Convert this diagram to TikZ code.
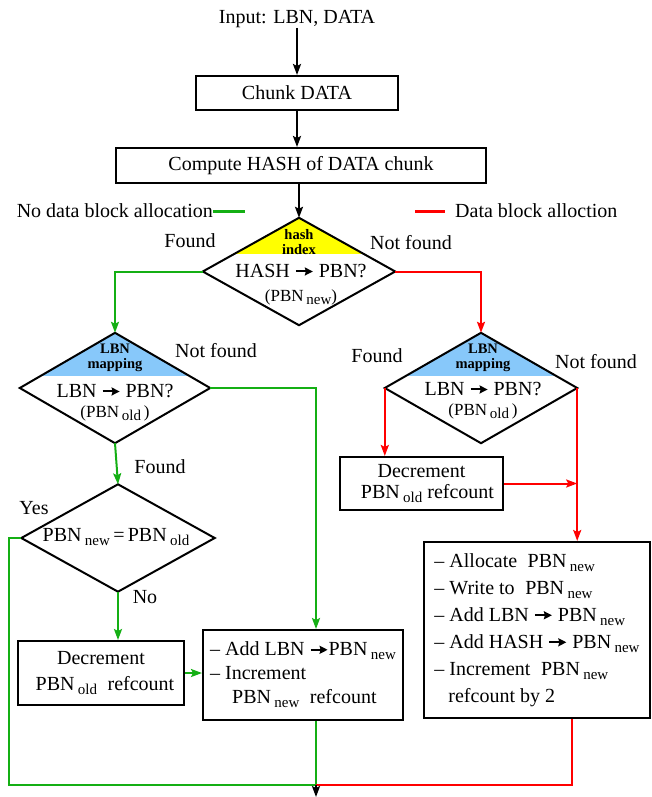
\documentclass[tikz,border=0pt]{standalone}
\usepackage{fontspec}
\setmainfont{Liberation Serif}
\usetikzlibrary{shapes.geometric,arrows.meta,calc}
\definecolor{gline}{RGB}{20,175,20}
\definecolor{rline}{RGB}{255,0,0}
\definecolor{hyel}{RGB}{255,255,0}
\definecolor{lblue}{RGB}{135,200,250}
\newcommand\fs[2]{\fontsize{#1}{#2}\selectfont}
\newcommand\sbs[1]{\,\raisebox{-0.45ex}{\fontsize{15}{15}\selectfont #1}}
\newcommand\arr{\tikz[baseline=-6pt]\draw[line width=2pt,-{Stealth[length=8pt,width=8pt,inset=1pt]}] (0pt,0pt)--(17pt,0pt);}
\begin{document}
\begin{tikzpicture}[x=1pt,y=-1pt,
  every node/.style={font=\fs{20}{24}, inner sep=0pt},
  box/.style={draw, line width=2pt, inner sep=3pt},
  dia/.style={diamond, inner sep=0pt},
  outl/.style={draw, line width=2pt, line join=miter},
  blk/.style={draw=black, line width=2pt, -{Stealth[length=11pt,width=8pt,inset=2pt]}},
  gl/.style={draw=gline, line width=2pt},
  rl/.style={draw=rline, line width=2pt},
  tip/.style={-{Stealth[length=11pt,width=8pt,inset=2pt]}},
  bl/.style={font=\bfseries\fs{14.5}{15}, align=center}
]
\useasboundingbox (0,0) rectangle (652,797);

% top part
\node (in) at (297,19) {Input: LBN, DATA};
\node[box, minimum width=202pt, minimum height=34pt] (chunk) at (297,93) {Chunk DATA};
\node[box, minimum width=370pt, minimum height=35pt] (comp) at (301,165.5) {Compute HASH of DATA chunk};
\node[dia, minimum width=192pt, minimum height=107pt] (hash) at (299,271.5) {};
\begin{scope}
  \clip (hash.north)--(hash.east)--(hash.south)--(hash.west)--cycle;
  \fill[hyel] (hash.west |- hash.north) rectangle (hash.east |- 0,254);
\end{scope}
\draw[outl] (hash.north)--(hash.east)--(hash.south)--(hash.west)--cycle;
\node[bl] (hashlbl) at (299,242) {hash\\index};
\node (hashq) at (301,271) {HASH \arr{} PBN?};
\node[font=\fs{17}{17}] (hashs) at (301,297) {(PBN\sbs{new})};

\draw[blk] (in.south) -- (chunk.north);
\draw[blk] (chunk.south) -- (chunk.south |- comp.north);
\draw[blk] (hash.north |- comp.south) -- (hash.north);

% legend
\node[anchor=east] (lgtxt) at (213,211) {No data block allocation};
\coordinate (lg1) at (245,211);
\draw[gl, line width=3pt] (lgtxt.east) -- (lg1);
\coordinate (lr1) at (415,211);
\coordinate (lr2) at (445,211);
\draw[rl, line width=3pt] (lr1) -- (lr2);
\node[anchor=west] (lrtxt) at (455,211) {Data block alloction};

% left LBN diamond
\node[dia, minimum width=190pt, minimum height=110pt] (lbnL) at (115,388) {};
\begin{scope}
  \clip (lbnL.north)--(lbnL.east)--(lbnL.south)--(lbnL.west)--cycle;
  \fill[lblue] (lbnL.west |- lbnL.north) rectangle (lbnL.east |- 0,376);
\end{scope}
\draw[outl] (lbnL.north)--(lbnL.east)--(lbnL.south)--(lbnL.west)--cycle;
\node[bl] (lbnLlbl) at (115,358) {LBN\\mapping};
\node (lbnLq) at (115,391) {LBN \arr{} PBN?};
\node[font=\fs{17}{17}] (lbnLs) at (115,413) {(PBN\sbs{old}\,)};

% right LBN diamond
\node[dia, minimum width=192pt, minimum height=110pt] (lbnR) at (481,388) {};
\begin{scope}
  \clip (lbnR.north)--(lbnR.east)--(lbnR.south)--(lbnR.west)--cycle;
  \fill[lblue] (lbnR.west |- lbnR.north) rectangle (lbnR.east |- 0,376);
\end{scope}
\draw[outl] (lbnR.north)--(lbnR.east)--(lbnR.south)--(lbnR.west)--cycle;
\node[bl] (lbnRlbl) at (483,358) {LBN\\mapping};
\node (lbnRq) at (483,389) {LBN \arr{} PBN?};
\node[font=\fs{17}{17}] (lbnRs) at (483,411) {(PBN\sbs{old}\,)};

% equality diamond
\node[dia, minimum width=193pt, minimum height=107pt] (eq) at (118,538) {};
\draw[outl] (eq.north)--(eq.east)--(eq.south)--(eq.west)--cycle;
\node (eqt) at (116,537) {PBN\sbs{new}\,=\,PBN\sbs{old}};

% boxes
\node[box, minimum width=166pt, minimum height=64pt, align=center, font=\fs{20}{26}] (decL) at (101,673)
  {Decrement\\\hspace*{8pt}PBN\sbs{old}\; refcount};
\node[box, minimum width=200pt, minimum height=90pt, align=left] (mid) at (303,675)
  {-- Add LBN \arr PBN\sbs{new}\\-- Increment\\\hspace*{22pt}PBN\sbs{new}\; refcount};
\node[box, minimum width=163pt, minimum height=53pt, align=center, font=\fs{20}{21}] (decR) at (421.5,483.5)
  {Decrement\\\hspace*{12pt}PBN\sbs{old} refcount};
\node[box, minimum width=226pt, minimum height=176pt, align=left, font=\fs{20}{27}] (big) at (537,630)
  {-- Allocate\; PBN\sbs{new}\\-- Write to\; PBN\sbs{new}\\-- Add LBN \arr{} PBN\sbs{new}\\-- Add HASH \arr{} PBN\sbs{new}\\-- Increment\; PBN\sbs{new}\\\hspace*{14pt}refcount by 2};

% labels
\node (l1) at (190,241) {Found};
\node (l2) at (411,243) {Not found};
\node (l3) at (216,351) {Not found};
\node (l4) at (160,467) {Found};
\node (l5) at (34,508) {Yes};
\node (l6) at (145,597) {No};
\node (l7) at (377,356) {Found};
\node (l8) at (596,362) {Not found};

% junction
\coordinate (j) at (316,785);
\coordinate (endp) at (316,797);

% green connectors
\draw[gl, tip] (hash.west) -| (lbnL.north);
\draw[gl, tip] (lbnL.east) -| ($(mid.north)+(13,0)$);
\draw[gl, tip] (lbnL.south) -- (eq.north);
\draw[gl] (eq.west) -- ++(-12,0) |- (j);
\draw[gl, tip] (eq.south) -- (eq.south |- decL.north);
\draw[gl, tip] (decL.east) -- (decL.east -| mid.west);
\draw[gl] ($(mid.south)+(13,0)$) -- (j);

% red connectors
\draw[rl, tip] (hash.east) -| (lbnR.north);
\draw[rl, tip] (lbnR.west) -- (lbnR.west |- decR.north);
\draw[rl, tip] (lbnR.east) -- (lbnR.east |- big.north);
\draw[rl, tip] (decR.east) -- (decR.east -| lbnR.east);
\draw[rl] ($(big.south)+(35,0)$) |- (j);

% exit
\draw[blk] (j) -- (endp);
\end{tikzpicture}
\end{document}
